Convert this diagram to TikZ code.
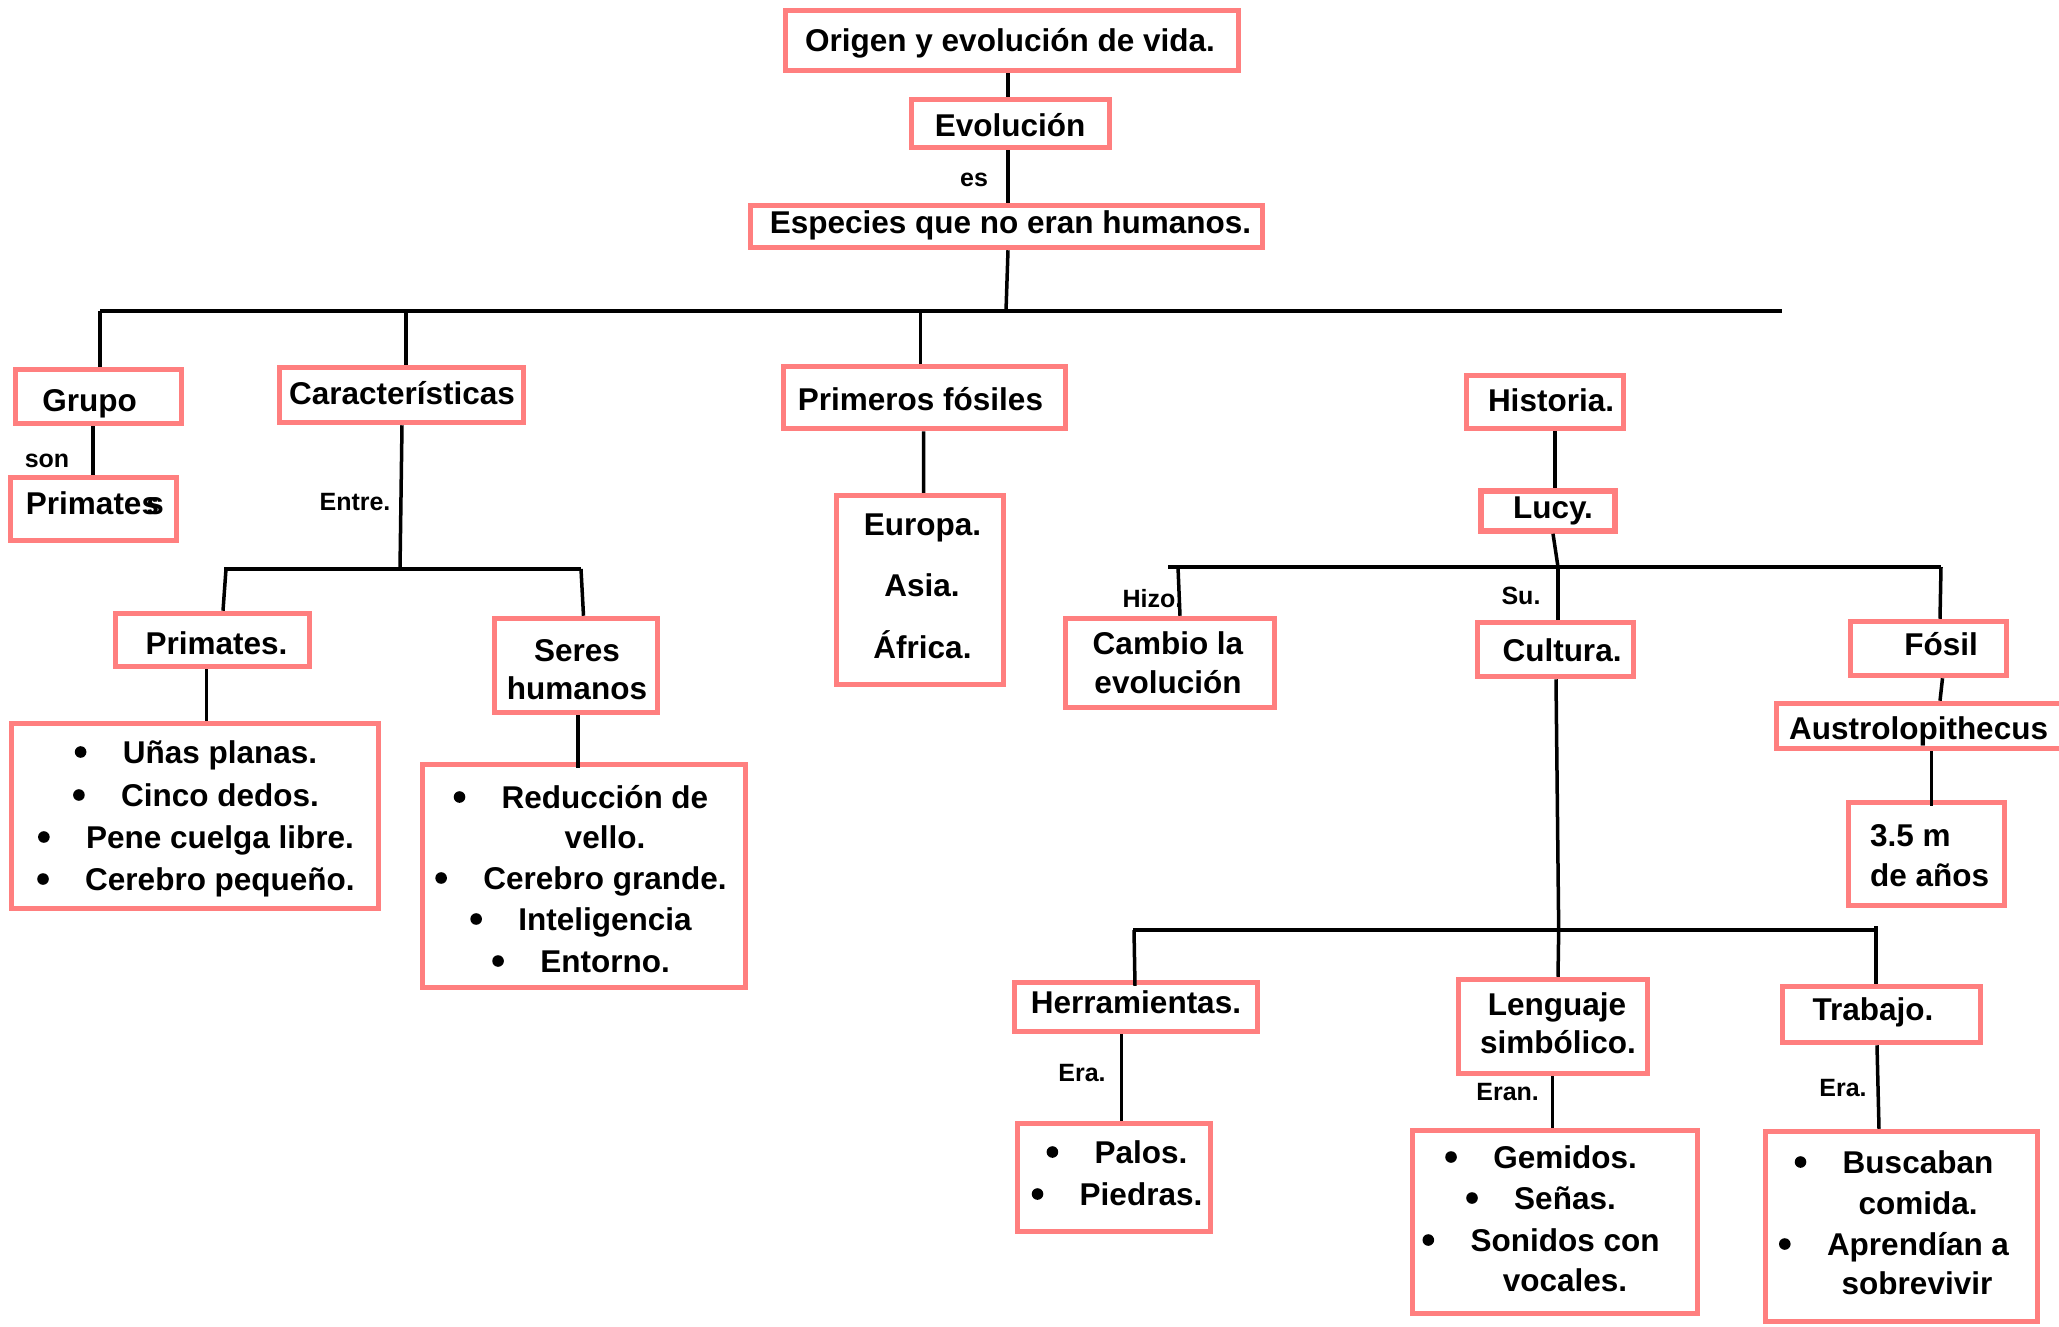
\documentclass[tikz,border=0pt]{standalone}
\usepackage{fontspec}
\setmainfont{Liberation Sans}
\definecolor{boxc}{RGB}{255,127,127}
\newcommand\mf{\fontsize{31.5}{38}\selectfont\bfseries}
\newcommand\lf{\fontsize{25}{30}\selectfont\bfseries}
\newcommand\bx[5]{\node[bx,minimum width=#4pt,minimum height=#5pt] (#1) at (#2,#3) {};}
\newcommand\tn[4]{\node[tx] (#1) at (#2,#3) {#4};}
\newcommand\tb[4]{\node[tx] (#1) at (#2,#3) {#4};\fill ([xshift=-42pt]#1.west) circle[radius=5.8pt];}
\newcommand\lbl[4]{\node[lb] (#1) at (#2,#3) {#4};}
\begin{document}
\begin{tikzpicture}[x=1pt,y=-1pt,
  bx/.style={draw=boxc,line width=5.5pt,inner sep=0pt},
  cn/.style={line width=3.5pt,draw=black},
  tx/.style={inner sep=0pt,font=\mf,text height=22.5pt,text depth=0pt},
  lb/.style={inner sep=0pt,font=\lf,text height=18pt,text depth=0pt}]
\clip (0,0) rectangle (2059,1326);
\fill[white] (0,0) rectangle (2059,1326);

% ---- boxes
\bx{title}{1012}{40.5}{453}{60}
\bx{evo}{1010.5}{123.5}{198}{48}
\bx{esp}{1006.5}{226.5}{512}{42}
\bx{grp}{98.5}{396.5}{166}{54}
\bx{prima}{93.5}{509}{166}{63}
\bx{car}{401.5}{395}{244}{55}
\bx{primb}{212.5}{640}{194}{53}
\bx{seres}{576}{665.5}{163}{94}
\bx{plist}{195}{816}{367}{185}
\bx{slist}{584}{876}{323}{223}
\bx{pf}{924.5}{397.5}{282}{62}
\bx{eur}{920}{590}{167}{189}
\bx{hist}{1545}{402}{157}{53}
\bx{lucy}{1548}{511}{134}{40}
\bx{cambio}{1170}{663}{209}{89}
\bx{cult}{1555.5}{649.5}{156}{54}
\bx{fosil}{1928.5}{648.5}{156}{54}
\bx{austro}{1922}{726}{291}{45}
\bx{anos}{1926.5}{854}{156}{103}
\bx{herr}{1136}{1007}{243}{49}
\bx{palos}{1114}{1177.5}{193}{108}
\bx{leng}{1553}{1026.5}{189}{94}
\bx{gem}{1555}{1222}{285}{183}
\bx{trab}{1881.5}{1014.5}{198}{56}
\bx{busc}{1901.5}{1226.5}{272}{190}

% ---- texts
\tn{t-title}{1010}{40}{Origen y evolución de vida.}
\tn{t-evo}{1010}{125}{Evolución}
\tn{t-esp}{1010.5}{222}{Especies que no eran humanos.}
\tn{t-grp}{89.5}{400}{Grupo}
\tn{t-prima}{92.5}{503}{Primate\rlap{\kern5pt s}s}
\tn{t-car}{402}{393}{Características}
\tn{t-primb}{216.5}{643}{Primates.}
\tn{t-seres1}{577}{650}{Seres}
\tn{t-seres2}{577}{688}{humanos}
\tb{t-p1}{220}{752}{Uñas planas.}
\tb{t-p2}{220}{795}{Cinco dedos.}
\tb{t-p3}{220}{837}{Pene cuelga libre.}
\tb{t-p4}{220}{879}{Cerebro pequeño.}
\tb{t-s1}{605}{797}{Reducción de}
\tn{t-s2}{605}{837}{vello.}
\tb{t-s3}{605}{878}{Cerebro grande.}
\tb{t-s4}{605}{919}{Inteligencia}
\tb{t-s5}{605}{961}{Entorno.}
\tn{t-pf}{920.5}{399}{Primeros fósiles}
\tn{t-e1}{922.5}{524}{Europa.}
\tn{t-e2}{922}{585}{Asia.}
\tn{t-e3}{922.5}{647}{África.}
\tn{t-hist}{1551}{400.5}{Historia.}
\tn{t-lucy}{1553}{507}{Lucy.}
\tn{t-cam1}{1168}{643}{Cambio la}
\tn{t-cam2}{1168}{682}{evolución}
\tn{t-cult}{1562}{650}{Cultura.}
\tn{t-fosil}{1941}{644}{Fósil}
\tn{t-austro}{1918.5}{728}{Austrolopithecus}
\node[tx,anchor=west] (t-an1) at (1870,835) {3.5 m};
\node[tx,anchor=west] (t-an2) at (1870,875) {de años};
\tn{t-herr}{1136}{1002}{Herramientas.}
\tb{t-pa1}{1141}{1152}{Palos.}
\tb{t-pa2}{1141}{1194}{Piedras.}
\tn{t-len1}{1557}{1004}{Lenguaje}
\tn{t-len2}{1558}{1042}{simbólico.}
\tb{t-g1}{1565}{1157}{Gemidos.}
\tb{t-g2}{1565}{1198}{Señas.}
\tb{t-g3}{1565}{1240}{Sonidos con}
\tn{t-g4}{1565}{1280}{vocales.}
\tn{t-trab}{1873}{1009}{Trabajo.}
\tb{t-b1}{1918}{1162}{Buscaban}
\tn{t-b2}{1918}{1203}{comida.}
\tb{t-b3}{1918}{1244}{Aprendían a}
\tn{t-b4}{1917}{1283}{sobrevivir}

% ---- connector labels
\lbl{l-es}{974}{177}{es}
\lbl{l-son}{47}{458}{son}
\lbl{l-entre}{355}{501}{Entre.}
\lbl{l-hizo}{1152.5}{598}{Hizo.}
\lbl{l-su}{1521}{595}{Su.}
\lbl{l-era1}{1082}{1072}{Era.}
\lbl{l-eran}{1507.6}{1091}{Eran.}
\lbl{l-era2}{1843}{1087}{Era.}

% ---- junction coordinates
\coordinate (mbL) at (100,311);
\coordinate (mbC) at (406,311);
\coordinate (mbM) at (1006,311);
\coordinate (mbP) at (920.7,311);
\coordinate (mbR) at (1782,311);
\coordinate (sbL) at (224,569);
\coordinate (sbC) at (400,569);
\coordinate (sbR) at (581,569);
\coordinate (lbL) at (1168,567);
\coordinate (lbH) at (1178,567);
\coordinate (lbM) at (1558,567);
\coordinate (lbR) at (1941,567);
\coordinate (obL) at (1133,930);
\coordinate (obM) at (1558.7,930);
\coordinate (obR) at (1876,930);

% ---- connectors
\draw[cn] ([xshift=-4pt]title.south) -- ([xshift=-2.5pt]evo.north);
\draw[cn] ([xshift=-2.5pt]evo.south) -- ([xshift=1.5pt]esp.north);
\draw[cn] ([xshift=1.5pt]esp.south) -- (mbM);
\draw[cn] (mbL) -- (mbR);
\draw[cn] (mbL) -- ([xshift=1.5pt]grp.north);
\draw[cn] (mbC) -- ([xshift=4.5pt]car.north);
\draw[cn] (mbP) -- ([xshift=-3.8pt]pf.north);
\draw[cn] ([xshift=-5.5pt]grp.south) -- ([xshift=-0.5pt]prima.north);
\draw[cn] ([xshift=0.5pt]car.south) -- (sbC);
\draw[cn] (sbL) -- (sbR);
\draw[cn] ([xshift=2pt]sbL) -- ([xshift=10.5pt]primb.north);
\draw[cn] (sbR) -- ([xshift=7.5pt]seres.north);
\draw[cn] ([xshift=-6pt]primb.south) -- ([xshift=11.5pt]plist.north);
\draw[cn] ([xshift=2pt]seres.south) -- ([xshift=-6pt,yshift=-6pt]slist.north);
\draw[cn] ([xshift=-1pt]pf.south) -- ([xshift=3.6pt]eur.north);
\draw[cn] ([xshift=10pt]hist.south) -- ([xshift=7pt]lucy.north);
\draw[cn] ([xshift=5pt]lucy.south) -- (lbM);
\draw[cn] (lbL) -- (lbR);
\draw[cn] (lbH) -- ([xshift=10pt]cambio.north);
\draw[cn] (lbM) -- ([xshift=2.5pt]cult.north);
\draw[cn] (lbR) -- ([xshift=11.5pt]fosil.north);
\draw[cn] ([xshift=14pt]fosil.south) -- ([xshift=18pt]austro.north);
\draw[cn] ([xshift=9.7pt]austro.south) -- ([xshift=5.2pt,yshift=-6pt]anos.north);
\draw[cn] ([xshift=0.5pt]cult.south) -- (obM);
\draw[cn] (obL) -- (obR);
\draw[cn] ([xshift=1pt]obL) -- ([xshift=-1pt,yshift=-6pt]herr.north);
\draw[cn] (obM) -- ([xshift=5pt]leng.north);
\draw[cn] ([yshift=4pt]obR) -- ([xshift=-5.5pt]trab.north);
\draw[cn] ([xshift=-14.4pt]herr.south) -- ([xshift=7.6pt]palos.north);
\draw[cn] ([xshift=-0.5pt]leng.south) -- ([xshift=-2.5pt]gem.north);
\draw[cn] ([xshift=-4.5pt]trab.south) -- ([xshift=-22.5pt]busc.north);
\end{tikzpicture}
\end{document}
